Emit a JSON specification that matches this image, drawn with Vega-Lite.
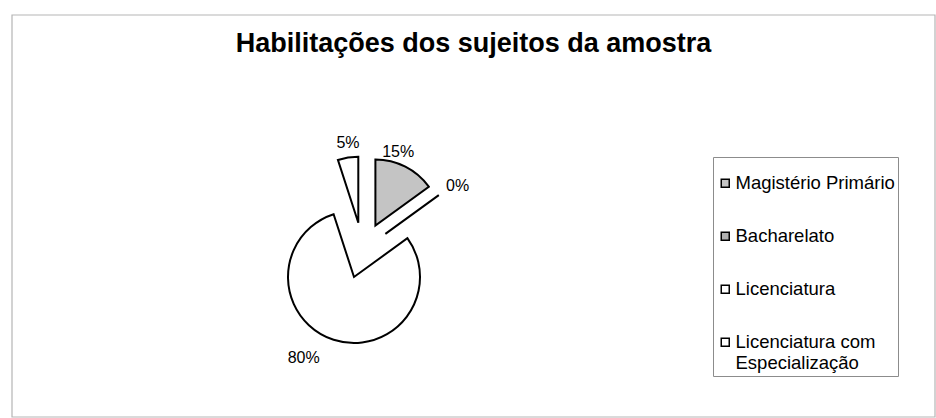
{
  "$schema": "https://vega.github.io/schema/vega-lite/v6.json",
  "width": 936,
  "height": 418,
  "autosize": {"type": "fit", "contains": "padding"},
  "padding": {"left": 11, "top": 14, "right": 0, "bottom": 0},
  "background": "white",
  "title": {
    "text": "Habilitações dos sujeitos da amostra",
    "fontSize": 27,
    "font": "Liberation Sans",
    "fontWeight": "bold",
    "anchor": "middle",
    "frame": "group",
    "offset": -65,
    "baseline": "alphabetic",
    "color": "black"
  },
  "config": {
    "view": {"stroke": null},
    "legend": {
      "orient": "none",
      "legendX": 701,
      "legendY": 142,
      "strokeColor": "#8c8c8c",
      "padding": 3,
      "symbolType": "square",
      "symbolSize": 64,
      "symbolStrokeColor": "black",
      "symbolStrokeWidth": 1.5,
      "labelOffset": 1,
      "labelFontSize": 18.5,
      "labelFont": "Liberation Sans",
      "labelColor": "black",
      "labelLimit": 300,
      "rowPadding": 34,
      "titleFontSize": 12,
      "titlePadding": 2
    }
  },
  "data": {
    "values": [
      {"cat": "Magistério Primário", "pct": 15, "ord": 1},
      {"cat": "Bacharelato", "pct": 0, "ord": 2},
      {"cat": "Licenciatura", "pct": 80, "ord": 3},
      {"cat": "Licenciatura com Especialização", "pct": 5, "ord": 4}
    ]
  },
  "transform": [
    {"stack": "pct", "groupby": [], "sort": [{"field": "ord", "order": "ascending"}], "as": ["v0", "v1"]},
    {"calculate": "(datum.v0 + datum.v1) / 2", "as": "mid"},
    {"calculate": "datum.pct + '%'", "as": "lbl"}
  ],
  "encoding": {
    "fill": {
      "field": "cat",
      "type": "nominal",
      "scale": {
        "domain": ["Magistério Primário", "Bacharelato", "Licenciatura", "Licenciatura com Especialização"],
        "range": ["#c4c4c4", "#b0b0b0", "#ffffff", "#ffffff"]
      },
      "legend": {
        "title": " ",
        "labelExpr": "datum.label === 'Licenciatura com Especialização' ? ['Licenciatura com', 'Especialização'] : datum.label"
      }
    }
  },
  "layer": [
    {
      "transform": [{"filter": "datum.ord === 1"}],
      "mark": {"type": "rect", "fill": "transparent", "stroke": "#b5b5b5", "strokeWidth": 1.2},
      "encoding": {"fill": null}
    },
    {
      "transform": [{"filter": "datum.cat === 'Licenciatura'"}],
      "mark": {"type": "arc", "radius": 66, "stroke": "black", "strokeWidth": 2, "xOffset": -119.5, "yOffset": 61},
      "encoding": {
        "theta": {"field": "v0", "type": "quantitative", "stack": null, "scale": {"domain": [0, 100]}},
        "theta2": {"field": "v1"}
      }
    },
    {
      "transform": [{"filter": "datum.cat === 'Magistério Primário'"}],
      "mark": {"type": "arc", "radius": 66, "stroke": "black", "strokeWidth": 2, "xOffset": -98.1, "yOffset": 9.5},
      "encoding": {
        "theta": {"field": "v0", "type": "quantitative", "stack": null, "scale": {"domain": [0, 100]}},
        "theta2": {"field": "v1"}
      }
    },
    {
      "transform": [{"filter": "datum.cat === 'Bacharelato'"}],
      "mark": {"type": "arc", "radius": 66, "stroke": "black", "strokeWidth": 2, "xOffset": -88.1, "yOffset": 17.9},
      "encoding": {
        "theta": {"field": "v0", "type": "quantitative", "stack": null, "scale": {"domain": [0, 100]}},
        "theta2": {"field": "v1"}
      }
    },
    {
      "transform": [{"filter": "datum.cat === 'Licenciatura com Especialização'"}],
      "mark": {"type": "arc", "radius": 66, "stroke": "black", "strokeWidth": 2, "xOffset": -115.2, "yOffset": 6.7},
      "encoding": {
        "theta": {"field": "v0", "type": "quantitative", "stack": null, "scale": {"domain": [0, 100]}},
        "theta2": {"field": "v1"}
      }
    },
    {
      "transform": [{"filter": "datum.cat === 'Licenciatura'"}],
      "mark": {"type": "text", "radius": 95, "xOffset": -119.5, "yOffset": 61, "dx": -21, "dy": -9, "fontSize": 16, "font": "Liberation Sans", "color": "black"},
      "encoding": {
        "theta": {"field": "mid", "type": "quantitative", "stack": null, "scale": {"domain": [0, 100]}},
        "text": {"field": "lbl"},
        "fill": null
      }
    },
    {
      "transform": [{"filter": "datum.cat === 'Magistério Primário'"}],
      "mark": {"type": "text", "radius": 92, "xOffset": -98.1, "yOffset": 9.5, "dx": -19, "dy": 8, "fontSize": 16, "font": "Liberation Sans", "color": "black"},
      "encoding": {
        "theta": {"field": "mid", "type": "quantitative", "stack": null, "scale": {"domain": [0, 100]}},
        "text": {"field": "lbl"},
        "fill": null
      }
    },
    {
      "transform": [{"filter": "datum.cat === 'Bacharelato'"}],
      "mark": {"type": "text", "radius": 88, "xOffset": -88.1, "yOffset": 17.9, "dx": 1, "dy": 4, "fontSize": 16, "font": "Liberation Sans", "color": "black"},
      "encoding": {
        "theta": {"field": "mid", "type": "quantitative", "stack": null, "scale": {"domain": [0, 100]}},
        "text": {"field": "lbl"},
        "fill": null
      }
    },
    {
      "transform": [{"filter": "datum.cat === 'Licenciatura com Especialização'"}],
      "mark": {"type": "text", "radius": 85, "xOffset": -115.2, "yOffset": 6.7, "dx": 3, "dy": 4, "fontSize": 16, "font": "Liberation Sans", "color": "black"},
      "encoding": {
        "theta": {"field": "mid", "type": "quantitative", "stack": null, "scale": {"domain": [0, 100]}},
        "text": {"field": "lbl"},
        "fill": null
      }
    }
  ]
}
